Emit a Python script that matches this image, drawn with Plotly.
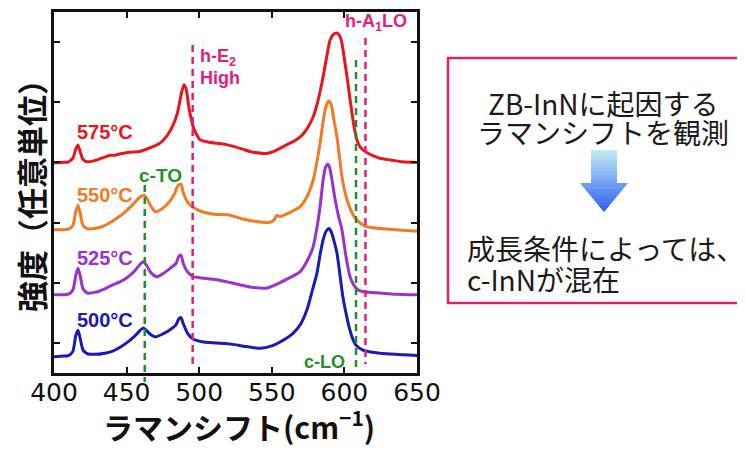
import plotly.graph_objects as go

# ---------------- data ----------------
x_575 = [400, 405, 410, 413, 415, 416.5, 418, 420, 423, 428, 434, 438.6, 442, 445, 452, 459, 466, 473, 478, 482,
         485, 487.5, 489.5, 491, 493, 496, 500.5, 506, 512, 518, 523, 530, 537, 546.7, 553, 560, 565, 569.4, 574,
         578.4, 581, 583, 585.3, 588, 590.1, 592.5, 594.9, 596.8, 598.3, 600, 601.8, 603.5, 605.2, 607, 608.7,
         611, 615.6, 620, 624.5, 632, 640, 650]
y_575 = [3.49, 3.50, 3.51, 3.57, 3.72, 3.79, 3.68, 3.55, 3.51, 3.53, 3.58, 3.62, 3.62, 3.64, 3.67, 3.68, 3.74, 3.82, 3.95, 4.12,
         4.32, 4.62, 4.79, 4.72, 4.40, 4.08, 3.88, 3.84, 3.82, 3.80, 3.77, 3.72, 3.67, 3.65, 3.70, 3.79, 3.85, 3.92, 4.05,
         4.25, 4.45, 4.65, 4.92, 5.28, 5.53, 5.63, 5.65, 5.60, 5.48, 5.22, 4.92, 4.62, 4.32, 4.05, 3.87,
         3.75, 3.66, 3.61, 3.57, 3.54, 3.51, 3.50]

x_550 = [400, 405, 410, 413, 415, 416.5, 418, 420, 423, 428, 435, 440, 445, 450, 455, 459, 462, 464, 467, 470,
         475, 480, 483, 485.5, 487.4, 489, 492, 496, 502, 510, 520, 530, 542, 548, 551.5, 553.3, 555.6, 560, 565,
         569.4, 574, 578.4, 581, 583.2, 585.5, 587.5, 589.4, 591, 592.8, 594.9, 596.8, 598.3, 600, 601.8, 604.5,
         607.3, 611, 615.6, 625, 635, 647, 650]
y_550 = [2.38, 2.38, 2.39, 2.45, 2.68, 2.79, 2.66, 2.45, 2.40, 2.40, 2.45, 2.52, 2.60, 2.70, 2.82, 2.92, 2.96, 2.90, 2.76, 2.68,
         2.74, 2.86, 2.98, 3.12, 3.14, 3.00, 2.84, 2.75, 2.68, 2.64, 2.63, 2.56, 2.51, 2.50, 2.54, 2.62, 2.60, 2.64, 2.70,
         2.76, 2.92, 3.20, 3.50, 3.82, 4.20, 4.45, 4.52, 4.45, 4.20, 3.92, 3.55, 3.26, 3.05, 2.88, 2.70,
         2.58, 2.49, 2.43, 2.40, 2.38, 2.36, 2.36]

x_525 = [400, 405, 410, 413, 415, 416.5, 418, 420, 423, 428, 435, 440, 445, 450, 455, 459, 461.5, 464, 467, 470.8,
         475, 480, 484, 486, 487.5, 489, 492, 495.9, 502, 512, 522, 535, 546, 555.6, 562, 569.4, 574, 578.4, 581,
         583.2, 585.3, 587, 588.7, 590, 591.5, 593.5, 596, 598.3, 601, 603.9, 606.5, 609.4, 613, 618, 624.5, 635, 650]
y_525 = [1.30, 1.30, 1.31, 1.38, 1.62, 1.74, 1.62, 1.40, 1.33, 1.34, 1.40, 1.46, 1.51, 1.58, 1.68, 1.80, 1.85, 1.78, 1.66, 1.60,
         1.65, 1.74, 1.82, 1.94, 1.96, 1.82, 1.68, 1.60, 1.58, 1.55, 1.50, 1.43, 1.41, 1.50, 1.58, 1.68, 1.85, 2.09, 2.40,
         2.76, 3.20, 3.42, 3.47, 3.40, 3.20, 2.90, 2.60, 2.38, 1.95, 1.60, 1.46, 1.38, 1.35, 1.34, 1.33, 1.31, 1.30]

x_500 = [400, 405, 410, 413, 415, 416.5, 418, 420, 423, 428, 435, 440, 445, 450, 455, 459, 461.5, 464, 467, 470,
         475, 480, 484, 486, 487.5, 489, 492, 496, 502, 512, 522, 532, 542, 550, 556, 564.6, 570, 574.2, 578, 581.1,
         583.5, 585.3, 587.5, 589.4, 591, 593, 594.9, 597, 599, 601.5, 603.5, 605.2, 608, 612.8, 618, 624.5, 635, 650]
y_500 = [0.27, 0.28, 0.29, 0.36, 0.62, 0.71, 0.58, 0.38, 0.32, 0.31, 0.33, 0.36, 0.42, 0.50, 0.60, 0.70, 0.75, 0.70, 0.63, 0.60,
         0.65, 0.72, 0.80, 0.90, 0.92, 0.82, 0.66, 0.56, 0.52, 0.50, 0.48, 0.44, 0.41, 0.45, 0.52, 0.66, 0.82, 1.05, 1.38, 1.66,
         2.00, 2.21, 2.36, 2.40, 2.34, 2.18, 1.99, 1.62, 1.26, 0.95, 0.74, 0.60, 0.46, 0.38, 0.35, 0.33, 0.31, 0.29]

series_names = ["500°C", "525°C", "550°C", "575°C"]
series_x = [x_500, x_525, x_550, x_575]
series_y = [y_500, y_525, y_550, y_575]
series_colors = ["#1a1ab4", "#9a32cc", "#f07a26", "#e8151d"]

x_ticks = [400, 450, 500, 550, 600, 650]
y_ticks = [0.5, 1.5, 2.5, 3.5, 4.5, 5.5]

mode_names = ["c-TO", "h-E<sub>2</sub>", "c-LO", "h-A<sub>1</sub>LO"]
mode_pos = [462.5, 495.5, 608.0, 614.5]

# ---------------- layout geometry (screen pixels) ----------------
W, H = 745, 450
OFF = 8                 # page offset of the figure inside the browser window
PX0, PX1 = 54, 417      # plot left/right on screen
PY0, PY1 = 12, 373      # plot top/bottom on screen
XR = (400, 650)
YR = (0, 6)

def px_x(v):
    return PX0 + (v - XR[0]) / (XR[1] - XR[0]) * (PX1 - PX0)

def pap_x(p):
    return (p - OFF) / W

def pap_y(p):
    return 1 - (p - OFF) / H

LAT = "Liberation Sans, Arial, Noto Sans CJK JP"
CJK = "Noto Sans CJK JP, Liberation Sans"

fig = go.Figure()

for name, xs, ys, c in zip(series_names, series_x, series_y, series_colors):
    fig.add_trace(go.Scatter(x=xs, y=ys, mode="lines", name=name,
                             line=dict(color=c, width=3, shape="spline", smoothing=0.6),
                             hoverinfo="skip"))

fig.update_layout(
    width=W, height=H,
    margin=dict(l=0, r=0, t=0, b=0, autoexpand=False),
    paper_bgcolor="white", plot_bgcolor="white",
    showlegend=False,
    xaxis=dict(domain=[pap_x(PX0), pap_x(PX1)], range=list(XR), tickvals=x_ticks,
               automargin=False, ticklabelstandoff=-5,
               ticks="inside", ticklen=6, tickwidth=2, tickcolor="#111",
               showline=True, linecolor="#111", linewidth=2.5, mirror="ticks",
               showgrid=False, zeroline=False,
               tickfont=dict(family="DejaVu Sans, Liberation Sans", size=25, color="#111")),
    yaxis=dict(domain=[pap_y(PY1), pap_y(PY0)], range=list(YR), tickvals=y_ticks,
               automargin=False, showticklabels=False,
               ticks="inside", ticklen=6, tickwidth=2, tickcolor="#111",
               showline=True, linecolor="#111", linewidth=2.5, mirror="ticks",
               showgrid=False, zeroline=False),
)

# dashed mode lines (x from the data scale, y in pixels)
mode_spans = [(185, 382), (45, 366), (60, 372), (38, 364)]
mode_colors = ["#22902a", "#e0207a", "#22902a", "#e0207a"]
for v, (ya, yb), c in zip(mode_pos, mode_spans, mode_colors):
    xp = pap_x(px_x(v))
    fig.add_shape(type="line", xref="paper", yref="paper", x0=xp, x1=xp,
                  y0=pap_y(ya), y1=pap_y(yb),
                  line=dict(color=c, width=2.5, dash="7px,5px"))

def ann(text, x, y, size, color, family=LAT, bold=True, xanchor="center", angle=0):
    if bold:
        text = "<b>" + text + "</b>"
    fig.add_annotation(text=text, x=pap_x(x), y=pap_y(y), xref="paper", yref="paper",
                       showarrow=False, xanchor=xanchor, yanchor="middle", textangle=angle,
                       borderpad=0,
                       font=dict(family=family, size=size, color=color))

# series labels
label_y = [320, 258, 195, 132]
for name, ly, c in zip(series_names, label_y, series_colors):
    ann(name, 105, ly, 20, c)

# mode labels
ann("c-TO", 160, 175, 19, "#22902a")
ann("h-E<sub>2</sub>", 199, 57, 18, "#e0207a", xanchor="left")
ann("High", 199, 78, 18, "#e0207a", xanchor="left")
ann("h-A<sub>1</sub>LO", 376, 23, 18, "#e0207a")
ann("c-LO", 324, 362, 18, "#22902a")

# axis titles
ann("ラマンシフト(cm<sup>−1</sup>)", 239, 425, 30, "#111", family=CJK)
ann("強度（任意単位）", 30, 188, 31, "#111", family=CJK, angle=-90)

# right box
fig.add_shape(type="rect", xref="paper", yref="paper",
              x0=pap_x(448), x1=pap_x(740), y0=pap_y(58), y1=pap_y(303),
              line=dict(color="#e0206e", width=2.5), fillcolor="rgba(0,0,0,0)")
ann("ZB-InNに起因する", 603, 103, 28, "#1a1a1a", family=CJK, bold=False)
ann("ラマンシフトを観測", 603, 132, 28, "#1a1a1a", family=CJK, bold=False)
ann("成長条件によっては、", 466, 248, 28, "#1a1a1a", family=CJK, bold=False, xanchor="left")
ann("c-InNが混在", 466, 279, 28, "#1a1a1a", family=CJK, bold=False, xanchor="left")

# gradient down-arrow drawn as thin horizontal slices
A_TOP, A_NECK, A_TIP = 150, 183, 212
A_CX, A_SHAFT_HW, A_HEAD_HW = 604, 13, 24
c_top = (196, 234, 242)
c_bot = (42, 94, 242)
N = 40

def hw(y):
    if y <= A_NECK:
        return A_SHAFT_HW
    return A_HEAD_HW * max(0.0, (A_TIP - y)) / (A_TIP - A_NECK)

for i in range(N):
    ya = A_TOP + (A_TIP - A_TOP) * i / N
    yb = min(A_TOP + (A_TIP - A_TOP) * (i + 1) / N + 0.6, A_TIP)
    t = (i + 0.5) / N
    col = "rgb(%d,%d,%d)" % tuple(round(c_top[k] + (c_bot[k] - c_top[k]) * t) for k in range(3))
    if ya < A_NECK < yb:
        pts = [(A_CX - A_SHAFT_HW, ya), (A_CX + A_SHAFT_HW, ya), (A_CX + A_SHAFT_HW, A_NECK),
               (A_CX + A_HEAD_HW, A_NECK), (A_CX + hw(yb), yb), (A_CX - hw(yb), yb),
               (A_CX - A_HEAD_HW, A_NECK), (A_CX - A_SHAFT_HW, A_NECK)]
    else:
        pts = [(A_CX - hw(ya), ya), (A_CX + hw(ya), ya), (A_CX + hw(yb), yb), (A_CX - hw(yb), yb)]
    path = "M " + " L ".join("%.4f,%.4f" % (pap_x(px), pap_y(py)) for px, py in pts) + " Z"
    fig.add_shape(type="path", xref="paper", yref="paper", path=path,
                  fillcolor=col, line=dict(width=0), layer="above")

fig.write_html("out.html")
